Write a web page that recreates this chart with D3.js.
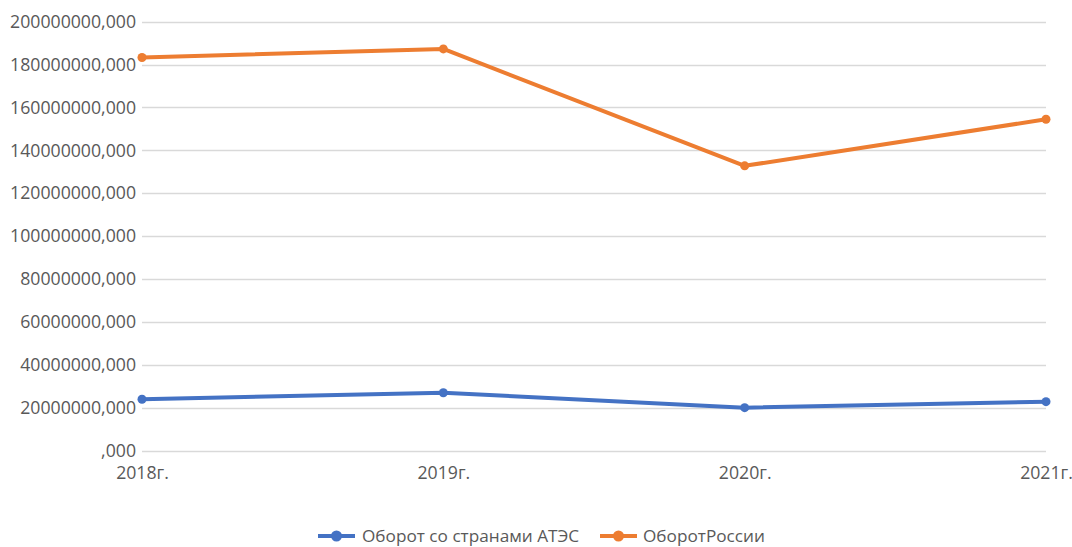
<!DOCTYPE html>
<html>
<head>
<meta charset="utf-8">
<script src="https://cdn.jsdelivr.net/npm/d3@7"></script>
<style>
  html, body { margin: 0; padding: 0; background: #fff; }
  svg text { font-family: "Open Sans", "Liberation Sans", sans-serif; fill: #595959; }
</style>
</head>
<body>
<svg id="chart" width="1072" height="547"></svg>
<script>
// Trade turnover by year
const years = ["2018г.", "2019г.", "2020г.", "2021г."];
const apecTurnover = [24000000, 27000000, 20050000, 22850000];
const russiaTurnover = [183300000, 187300000, 132800000, 154500000];
const yTicks = [0, 20000000, 40000000, 60000000, 80000000, 100000000,
                120000000, 140000000, 160000000, 180000000, 200000000];
const seriesNames = ["Оборот со странами АТЭС", "ОборотРоссии"];
const seriesColors = ["#4472C4", "#ED7D31"];

const svg = d3.select("#chart");
const margin = { left: 142, right: 26, top: 22, bottom: 97 };
const W = 1072, H = 547;

const x = d3.scalePoint().domain(years).range([margin.left, W - margin.right]);
const y = d3.scaleLinear().domain([0, 200000000]).range([H - margin.bottom + 0.7, margin.top - 0.3]);

// Number format like "200000000,000"
const fmt = v => (v === 0 ? "" : String(v)) + ",000";

// Gridlines
svg.append("g")
  .selectAll("line")
  .data(yTicks)
  .join("line")
  .attr("x1", margin.left)
  .attr("x2", W - margin.right)
  .attr("y1", d => Math.round(y(d)) + 0.5)
  .attr("y2", d => Math.round(y(d)) + 0.5)
  .attr("stroke", "#d9d9d9")
  .attr("stroke-width", 1.3);

// Y axis labels
const yAxis = d3.axisLeft(y).tickValues(yTicks).tickFormat(fmt).tickSize(0).tickPadding(6);
const gy = svg.append("g").attr("transform", `translate(${margin.left},0)`).call(yAxis);
gy.select(".domain").remove();
gy.selectAll("text").style("font-size", "17.7px").attr("fill", "#595959");

// X axis labels
const xAxis = d3.axisBottom(x).tickSize(0).tickPadding(16);
const gx = svg.append("g").attr("transform", `translate(0,${y(0)})`).call(xAxis);
gx.select(".domain").remove();
gx.selectAll("text").style("font-size", "17.7px").attr("fill", "#595959");

// Lines and markers
const seriesData = [apecTurnover, russiaTurnover];
const line = d3.line().x((d, i) => x(years[i])).y(d => y(d));

seriesData.forEach((vals, si) => {
  svg.append("path")
    .datum(vals)
    .attr("d", line)
    .attr("fill", "none")
    .attr("stroke", seriesColors[si])
    .attr("stroke-width", 4)
    .attr("stroke-linejoin", "round")
    .attr("stroke-linecap", "round");
  svg.append("g")
    .selectAll("circle")
    .data(vals)
    .join("circle")
    .attr("cx", (d, i) => x(years[i]))
    .attr("cy", d => y(d))
    .attr("r", 4.5)
    .attr("fill", seriesColors[si]);
});

// Legend
const legendY = 536;
const legendItems = [
  { x: 318, textX: 362 },
  { x: 600, textX: 643 }
];
legendItems.forEach((it, i) => {
  const g = svg.append("g");
  g.append("line")
    .attr("x1", it.x).attr("x2", it.x + 37)
    .attr("y1", legendY).attr("y2", legendY)
    .attr("stroke", seriesColors[i]).attr("stroke-width", 4);
  g.append("circle")
    .attr("cx", it.x + 18.5).attr("cy", legendY).attr("r", 5.5)
    .attr("fill", seriesColors[i]);
  g.append("text")
    .attr("x", it.textX).attr("y", legendY + 6)
    .style("font-size", "17.2px")
    .text(seriesNames[i]);
});
</script>
</body>
</html>
